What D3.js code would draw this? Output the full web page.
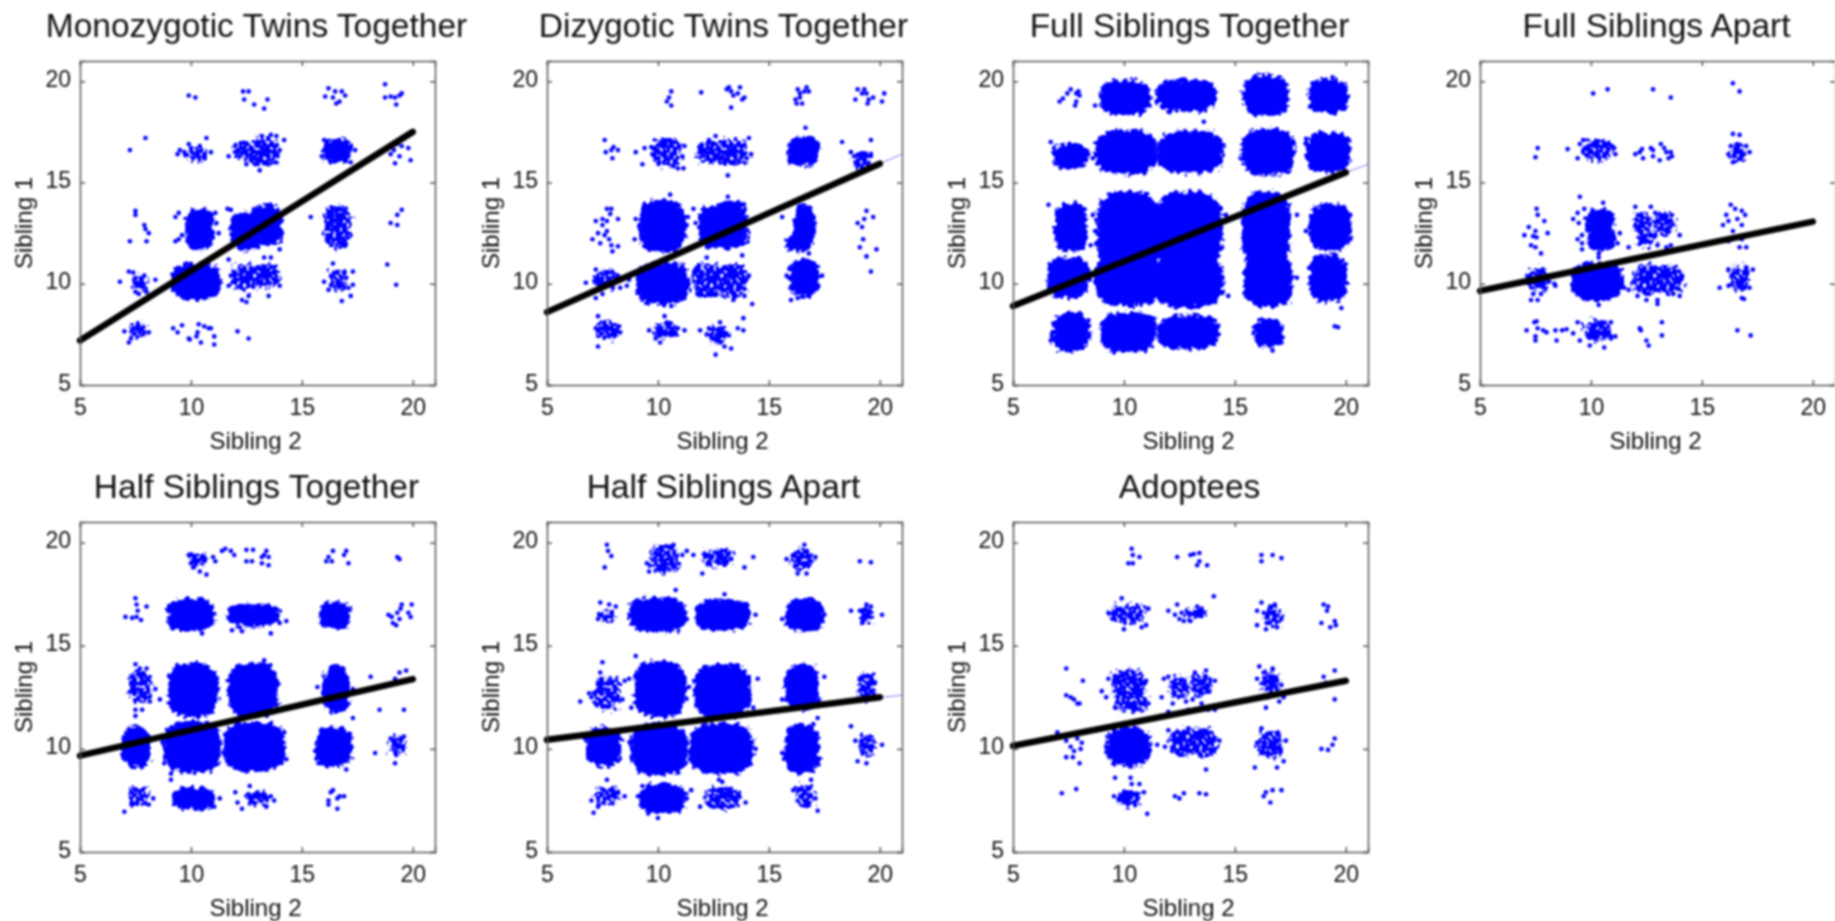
<!DOCTYPE html>
<html>
<head>
<meta charset="utf-8">
<script src="https://cdn.jsdelivr.net/npm/d3@7"></script>
<style>
  body { margin: 0; background: #fff; }
  svg { display: block; filter: blur(0.8px); }
  text { font-family: "Liberation Sans", Arial, sans-serif; fill: #111; }
  .axis path, .axis line { stroke: #555; stroke-width: 1.5; }
</style>
</head>
<body>
<svg id="chart" width="1835" height="921"></svg>
<script>
const titles = ["Monozygotic Twins Together", "Dizygotic Twins Together", "Full Siblings Together", "Full Siblings Apart",
  "Half Siblings Together", "Half Siblings Apart", "Adoptees"];
const tickValues = [5, 10, 15, 20];
const xLabel = "Sibling 2";
const yLabel = "Sibling 1";

// fit lines, [sibling 2, sibling 1]
const mzFit = [[5, 7.2], [20, 17.5]];
const dzFit = [[5, 8.6], [20, 15.93]];
const fsFit = [[5, 8.9], [20, 15.5]];
const faFit = [[5, 9.65], [20, 13.07]];
const hsFit = [[5, 9.67], [20, 13.38]];
const haFit = [[5, 10.44], [20, 12.5]];
const adFit = [[5, 10.15], [20, 13.3]];
// thin continuation past 20, only visible in three panels
const dzTail = [[20, 15.93], [21, 16.4]];
const fsTail = [[20, 15.5], [21, 15.9]];
const haTail = [[20, 12.5], [21, 12.6]];

// dense clusters read as [x, y, half width, half height]
const mzSolid = [[10.25, 10.1, 1.1, 0.9], [10.4, 12.7, 0.65, 1.0], [12.5, 12.6, 0.75, 0.95], [13.4, 12.9, 0.7, 1.0], [16.6, 16.55, 0.65, 0.6]];
const dzSolid = [[10.2, 10, 1.2, 1.05], [10.2, 12.85, 1.05, 1.3], [12.5, 12.8, 0.65, 1.05], [13.3, 12.9, 0.75, 1.2], [16.6, 12.9, 0.5, 1.0], [16.3, 12, 0.6, 0.4], [16.6, 10.3, 0.7, 0.9], [16.55, 16.55, 0.72, 0.72]];
const fsSolid = [[10.05, 19.2, 1.15, 0.85], [12.8, 19.3, 1.35, 0.8], [16.4, 19.3, 1.05, 1.0], [19.2, 19.25, 0.9, 0.85],
  [10.1, 16.5, 1.4, 1.1], [13, 16.5, 1.5, 1.05], [16.5, 16.5, 1.2, 1.15], [19.2, 16.5, 1.0, 1.0], [7.6, 16.3, 0.8, 0.6],
  [10.2, 12.6, 1.45, 1.95], [12.9, 12.6, 1.55, 1.95], [10.2, 10.2, 1.5, 1.3], [12.9, 10.1, 1.6, 1.25], [7.6, 12.8, 0.75, 1.2], [7.5, 10.3, 0.95, 1.0],
  [16.4, 12.7, 1.1, 1.85], [16.5, 10.2, 1.1, 1.35], [19.3, 12.8, 0.95, 1.15], [19.2, 10.3, 0.85, 1.15],
  [7.6, 7.6, 0.85, 0.95], [10.2, 7.6, 1.25, 1.0], [12.9, 7.6, 1.4, 0.85], [16.5, 7.6, 0.7, 0.7]];
const faSolid = [[10.3, 10.1, 1.15, 0.95], [10.4, 13, 0.65, 0.7], [10.5, 12.2, 0.65, 0.55]];
const hsSolid = [[10.05, 10.1, 1.3, 1.25], [12.85, 10.1, 1.4, 1.2], [16.45, 10.1, 0.85, 0.95], [7.55, 10.1, 0.65, 1.0],
  [10.1, 12.85, 1.15, 1.3], [12.8, 12.85, 1.15, 1.3], [16.55, 12.9, 0.6, 1.15], [10, 16.5, 1.05, 0.8], [12.8, 16.5, 1.2, 0.55], [16.5, 16.5, 0.7, 0.65], [10.1, 7.6, 0.95, 0.55]];
const haSolid = [[10.05, 10, 1.3, 1.25], [12.85, 10, 1.45, 1.25], [16.5, 10, 0.8, 1.2], [7.55, 10.1, 0.8, 0.95],
  [10.1, 12.9, 1.2, 1.35], [12.9, 12.8, 1.3, 1.3], [16.5, 13, 0.8, 1.1], [10, 16.5, 1.3, 0.85], [12.9, 16.5, 1.25, 0.75], [16.6, 16.5, 0.85, 0.8], [10.2, 7.6, 1.05, 0.75]];
const adSolid = [[10.2, 10.1, 1.0, 0.95]];

// looser clusters, same columns
const mzSpeckle = [[16.6, 12.8, 0.6, 1.05], [12.4, 16.6, 0.45, 0.45], [13.3, 16.5, 0.6, 0.7], [10.3, 16.4, 0.45, 0.3], [12.4, 10.3, 0.55, 0.65], [13.4, 10.4, 0.55, 0.6], [16.6, 10.2, 0.4, 0.5], [7.6, 7.7, 0.35, 0.4], [7.7, 10, 0.35, 0.4]];
const dzSpeckle = [[12.2, 10.15, 0.65, 0.85], [13.35, 10.15, 0.65, 0.85], [10.4, 16.5, 0.65, 0.7], [12.4, 16.5, 0.65, 0.55], [13.3, 16.5, 0.75, 0.65], [19.2, 16.1, 0.4, 0.45], [7.7, 10.2, 0.55, 0.45], [7.7, 7.7, 0.55, 0.5], [10.3, 7.7, 0.55, 0.35], [12.7, 7.5, 0.45, 0.4]];
const fsSpeckle = [];
const faSpeckle = [[10.3, 16.6, 0.7, 0.5], [12.5, 10.2, 0.6, 0.75], [13.5, 10.2, 0.65, 0.7], [16.7, 10.3, 0.45, 0.6], [7.6, 10.2, 0.5, 0.6], [10.3, 7.7, 0.6, 0.5], [12.3, 13, 0.4, 0.5], [13.3, 13, 0.45, 0.55], [12.5, 12.2, 0.45, 0.35], [16.6, 16.4, 0.35, 0.4]];
const hsSpeckle = [[7.7, 13, 0.5, 0.8], [7.6, 7.7, 0.45, 0.45], [19.3, 10.2, 0.35, 0.45], [10.3, 19.2, 0.4, 0.3], [13, 7.6, 0.5, 0.35]];
const haSpeckle = [[19.4, 10.2, 0.4, 0.5], [19.4, 13, 0.4, 0.7], [7.7, 12.7, 0.6, 0.8], [10.3, 19.2, 0.65, 0.7], [12.7, 19.3, 0.7, 0.4], [16.5, 19.2, 0.5, 0.5], [7.7, 7.7, 0.6, 0.4], [12.9, 7.6, 0.8, 0.55], [16.6, 7.7, 0.4, 0.55], [19.4, 16.5, 0.3, 0.4], [7.7, 16.4, 0.35, 0.25]];
const adSpeckle = [[10.2, 16.55, 0.8, 0.45], [10.2, 13.2, 0.75, 0.65], [10.3, 12.3, 0.75, 0.5], [12.5, 13, 0.45, 0.5], [13.5, 13.1, 0.45, 0.5], [12.6, 10.3, 0.6, 0.65], [13.5, 10.3, 0.65, 0.7], [16.6, 10.2, 0.55, 0.65], [16.6, 13.2, 0.4, 0.55], [10.2, 7.6, 0.55, 0.4], [13.2, 16.55, 0.45, 0.25], [16.7, 16.4, 0.4, 0.45]];

// single marks
const mzDots = [[9.9,19.3],[10.2,19.2],[12.35,19.5],[12.6,19.5],[12.4,19.1],[12.85,18.85],[13.45,19.1],[13.3,18.65],[16.2,19.65],[16.05,19.25],[16.5,19.5],[16.8,19.5],[16.4,19.2],[16.7,19],[16.95,19.3],[16.55,18.9],[18.75,19.85],[18.75,19.2],[19,19.25],[19.2,19.2],[19.5,19.4],[19.25,18.85],[19.4,19.3],
[7.25,16.6],[7.95,17.2],[9.4,16.4],[9.5,16.6],[9.7,16.5],[9.9,16.9],[9.75,16.35],[10,16.7],[10.7,17.2],[10.9,16.5],[10.6,16.2],[10.1,16.2],[10.4,16.8],[11.7,16.3],[12,16.5],[12,16.8],[12.5,15.9],[12.7,16.1],[12.9,15.9],[13.1,15.6],[13.2,17.3],[13.6,17.35],[13.85,17.3],[14.2,17.1],[13.9,16.3],[14,16.6],[13.8,16],[13.1,17],[15.9,16.3],[17.4,16.6],[17.2,16],[16,17.1],[19,16.4],[19.2,15.95],[19.4,16.3],[19.5,16.8],[19.8,16.7],[19.9,16.1],[19.15,16.6],[19.6,17.2],[19.3,16.9],
[15.4,13.3],[7.5,13.6],[7.5,13.4],[7.9,12.9],[8.1,12.5],[7.25,12.1],[8,12.1],[7.95,12.7],[9.3,13.3],[9.45,13.5],[9.3,12.1],[9.45,12.2],[9.6,12.4],[11.25,12.5],[11.1,13.5],[11.15,13],[11.65,13.7],[11.8,13.65],[14,11.7],[14.1,12.5],[19.3,13.4],[19.5,13.65],[19,13],[19.3,12.9],[18.85,10.95],[19.25,9.95],
[6.8,10.1],[7.2,10.6],[7.4,10.55],[7.5,10.3],[7.9,10.4],[8.4,10.2],[7.5,9.6],[8,9.6],[7.65,9.5],[11.7,9.9],[11.7,11.2],[12.3,9.2],[12.5,9.1],[12.6,9.4],[13.3,11.3],[13.6,11.3],[13.5,9.4],[14,9.9],[13.8,10.6],[12,10.2],[11.8,10.4],[16,10.1],[16.2,9.7],[17.3,10.6],[17.3,9.95],[17.2,9.4],[16.8,9.15],[17.1,9.8],[17,10.3],[16.4,11],
[7,7.65],[7.2,7.1],[7.3,7.3],[7.9,7.6],[8.1,7.6],[9.2,7.8],[9.4,7.6],[9.6,7.95],[9.9,7.3],[9.95,7.25],[10.35,8],[10.3,7.6],[10.6,7.9],[10.45,7.1],[10.9,7.8],[11.05,7.4],[11.05,7],[10.8,7.8],[10.25,7.4],[12.1,7.65],[12.6,7.3]];

const dzDots = [[10.6,19.5],[10.5,19.2],[10.4,19],[10.6,18.8],[11.95,19.45],[13.1,19.6],[13.3,19.5],[13.4,19.3],[13.6,19.4],[13.7,19.7],[13.8,19.1],[13.9,19.2],[13.2,19.7],[13.3,18.7],[16.3,19.6],[16.7,19.7],[16.8,19.5],[16.6,19.5],[16.2,19.1],[16.4,19.2],[16.5,18.9],[16.25,18.9],[16.4,19.4],[19,19.6],[19.3,19.6],[19.4,19.4],[19.2,19.4],[18.9,19.1],[19.5,19.1],[19.45,18.9],[20.2,19.4],[20.1,19],[19.7,19.2],
[7.6,17.1],[7.65,16.5],[7.9,16.6],[8.2,16.6],[7.95,16.2],[8,16.75],[9,16.5],[9.4,16.7],[9.7,16.75],[9.3,15.9],[9.75,16.4],[11.15,15.7],[10.9,15.7],[10.7,15.8],[11.1,16.3],[11.2,16.8],[12.6,17.3],[12.3,17.1],[13.15,15.35],[14.1,17.2],[14.2,16.4],[14,16.2],[18.3,17],[18.7,16.5],[18.85,16.3],[19,15.9],[19.6,17.1],[19.6,16.4],[16.65,17.7],
[7.7,13.7],[7.9,13.7],[7.85,13.45],[7.2,13.1],[7.5,13.2],[7.7,13.1],[8.2,13.2],[7.5,12.9],[7.3,12.5],[7.7,12.6],[7.05,12.2],[7.4,12],[7.8,12.2],[7.9,11.9],[8.2,11.85],[7.95,11.6],[7.6,12.4],[9,13.2],[8.95,12.2],[11.2,12.4],[11.3,12.9],[11.6,13.7],[11.35,13.3],[10.55,14.4],[11.7,13],[13.15,14.3],[15.6,13.3],[19,13],[19.3,13.2],[19.2,12.8],[19.4,13.6],[19.7,13.3],[19.25,12.2],[19.1,11.8],[19.4,11.35],[19.85,11.7],[19.6,10.6],[11.2,9.3],
[6.75,10.05],[7.2,10.7],[7.3,10.3],[7.4,10],[7.5,9.5],[7.2,9.3],[8.2,10.4],[8.6,9.9],[8.3,9.8],[8.7,10.2],[14.1,10.4],[14.25,9],[13.8,11.4],[12.2,11.3],[13.9,9.4],[13.4,9.2],[15.8,10.4],[16,9.2],[16.3,9.3],[16.8,11.5],[16.55,11.2],[17.4,10.4],[17.1,9.8],[10.6,8.9],
[7.3,8.4],[7.3,6.9],[7.2,7.8],[8.3,7.6],[8.25,7.9],[9.6,7.7],[9.9,7.3],[10.1,7.1],[10.3,8.4],[10.4,8.1],[10.9,7.8],[11.2,7.7],[11.9,7.7],[12.2,7.5],[12.5,7.3],[12.6,6.5],[12.8,7.1],[13,6.9],[13.3,6.8],[12.3,7.8],[12.8,8.1],[13.1,7.5],[13.6,7.8],[13.85,7.7],[13.85,8.3],[12.75,7.6]];

const fsDots = [[7.1,19],[7.25,19.15],[7.45,19.4],[7.6,19.6],[7.85,19.4],[8,19.3],[7.85,19],[7.8,18.8],[7.95,19.5],[8.7,18.8],[19.4,20.2],[13.6,18],[19.5,7.9],[19.65,7.85],[19.8,8.8],[6.7,17],[6.85,16.7],[18.2,12.6],[8.6,16.2],[8.7,12.6],[8.6,13.4],[8.5,11.9],[8.4,8.2],[16.7,6.7],[17.1,7.1],[20.2,13.4],[20.2,12.2],[15.5,11.9],[17.8,13.4],[17.8,10.3],[14.7,9.4],[14.6,13.4],[6.6,13.9],[6.65,10.4],[6.7,7.2],[20.15,16.7]];

const faDots = [[10.1,19.4],[10.75,19.6],[12.8,19.6],[13.6,19.2],[16.4,19.9],[16.7,19.5],
[7.6,16.7],[7.5,16.25],[8.95,16.65],[9.4,16.2],[9.5,16.9],[9.65,17.1],[11.1,16.4],[11.05,16.7],[10.8,16.9],[12,16.4],[12.2,16.5],[12.3,16.65],[12.35,16.2],[12.7,16.7],[12.8,16.6],[12.8,16.3],[13.1,16.1],[13.15,16.9],[13.3,16.7],[13.4,16.5],[13.65,16.3],[13.6,16.5],[13.5,16.2],[16.4,17.4],[16.7,17.35],[16.3,16.8],[16.5,16.7],[16.2,16.4],[16.4,16],[16.9,16.4],[17,16.8],[17.15,16.5],[16.7,16.2],[16.6,16.9],
[9.5,14.3],[9.4,13.5],[9.2,13.2],[9.45,13],[9.4,12.2],[9.6,12.4],[9.6,12],[9.6,11.7],[11.3,12.5],[11.2,12],[10.35,11.3],[10.35,11.5],[10.55,14],[9.7,13.7],
[7.55,13.7],[7.6,13.4],[7.9,13.1],[7.2,12.8],[7.5,12.6],[7,12.4],[7.4,12.35],[7.55,12.3],[8.05,12.5],[7.3,11.9],[7.5,11.8],[7.75,11.5],[11.7,11.8],[12,13.8],[12.7,13.8],[12.9,13.5],[12.1,12.7],[12.9,12.4],[13,11.9],[14,12.4],[13.5,12.7],[13.4,11.8],[13.6,11.9],
[16.3,13.9],[16.1,13.4],[16.2,13.1],[15.95,12.9],[16.5,13.7],[16.8,13.6],[16.95,13.4],[16.6,13.2],[16.8,12.9],[16.4,12.6],[16.5,12.3],[16.8,12.2],[16.7,11.8],[17,11.8],[16.2,12.1],
[15.8,9.8],[16.2,10.7],[17.3,10.7],[17,10.8],[17.15,9.8],[16.8,9.3],[16.9,9.25],[16.2,9.9],[13,9],[13,9.2],[14.1,10.4],[14,9.4],[13.7,9.5],[12.1,9.4],[12.5,9.2],[11.5,9.8],[11.7,9.7],[10.35,8.95],
[8.4,9.9],[8.1,10.1],[8.35,10],[7.3,9.2],[7.6,9.2],[7.75,9.5],[7.4,9.5],
[7.1,7.7],[7.5,7.4],[7.5,7.2],[7.45,8.1],[7.55,8.15],[7.6,7.8],[7.85,7.7],[8,7.6],[8.4,7.7],[8.45,7.2],[8.7,7.7],[8.9,7.75],[9.2,7.55],[9.4,8.1],[9.5,7.2],[9.95,6.95],[10.6,6.85],[10.9,7.3],[11.1,7.4],[10.9,8.1],[12.2,7.8],[12.25,7.7],[12.5,7.2],[12.6,6.95],[13.2,8.1],[13.2,7.45],[16.6,7.7],[17.2,7.45]];

const hsDots = [[9.9,19.4],[10,19],[10.1,18.8],[10.4,18.6],[10.7,18.45],[10.6,19.3],[11,19.3],[11.1,19.1],[11.4,19.6],[11.55,19.7],[11.8,19.6],[11.95,19.4],[12.5,19.65],[12.8,19.65],[12.5,19.1],[12.75,19.1],[13.2,19.3],[13.4,19.6],[13.5,19.3],[13.5,18.9],[13.2,19],[13.3,19.4],[16.2,19.3],[16.4,19.6],[16.35,19.1],[16.1,19.1],[16.9,19.4],[17,19.6],[17.1,19],[19.3,19.3],[19.4,19.2],
[7.5,17.3],[7.55,17],[7.6,16.7],[7.55,16.4],[7.05,16.4],[7.35,16.35],[7.75,16.25],[8,16.9],[14,16.1],[14.3,16.2],[11.85,15.75],[12.2,15.9],[12.3,15.7],[13.6,15.6],[10.5,15.6],[10.6,15.9],[18.9,16.5],[19.05,16.4],[19.1,16.1],[19.3,16.6],[19.4,16.3],[19.25,16],[19.5,17],[19.45,16.8],[19.8,16.6],[19.95,17],[19.9,16.4],
[7.5,14.1],[7.7,13.9],[8,13.9],[8.4,12.9],[8.15,12.3],[7.5,11.9],[7.5,11.6],[7.8,11.9],[18.1,13.5],[19.2,13.4],[19.4,13.7],[19.7,13.8],[18.5,11.9],[19.6,11.9],[13.3,14.3],[15.7,13],[17.3,12.9],[17.3,11.5],[8.6,12.4],[9.05,13.5],
[18.3,9.8],[19,10.5],[19.6,10.6],[19.2,9.3],[19.25,9.7],[19.5,10.5],[8.8,9.3],[14.2,10.8],[14.3,9.5],[15.6,9.9],[15.75,9.3],[17,9],[12.5,8.9],
[9.1,8.5],[9.1,8.8],[9.3,7.6],[7,6.95],[7.3,7.9],[8.3,7.6],[8.1,7.3],[11.3,7.6],[11,7.6],[11.05,7.2],[12,7.9],[12.1,7.4],[12.3,7.1],[12.6,7.8],[12.65,8.2],[12.8,7.4],[13,7.9],[13.4,7.2],[13.4,7.6],[13.6,7.7],[13.75,7.5],[16.2,7.5],[16.3,7.9],[16.4,8],[16.6,7.6],[16.7,7.7],[16.9,7.7],[16.6,7.1],[16.2,7.3]];

const haDots = [[7.7,19.9],[7.75,19.6],[7.9,19.35],[7.6,18.8],[11.1,19.4],[11.6,19.4],[11.3,19.6],[9.5,19],[9.6,18.6],[10.7,19.9],[13.9,18.8],[14.3,19.3],[12,18.5],[16.6,19.9],[16.9,19.1],[15.8,19.2],[17.1,19.3],[16.3,18.5],[16.7,18.5],[19.1,19.1],[19.6,19.05],
[7.4,17.1],[7.8,17],[7.7,16.4],[7.3,16.3],[7.9,16.6],[8.1,16.9],[10.8,17.7],[13,17.5],[14.4,16.5],[8.8,16.5],[8.9,16.2],[11.3,16.3],[15.6,16.3],[17.5,16.5],[18.7,16.7],[19.1,16.7],[19.4,17],[19.2,16.1],[19.5,16.5],[20.1,16.5],[19.6,16.9],
[7.5,14.2],[7.4,13.7],[8.5,13.3],[6.5,12.3],[6.9,12.7],[7,12.5],[8.4,12.4],[8.7,13.4],[8.8,12],[11.4,13],[9,14.5],[14.5,13.4],[14.3,12],[15.6,12.4],[17.5,13.5],[17.4,12.2],
[6.7,10.5],[18.7,11.1],[18.9,10.4],[19,9.4],[19.4,9.3],[20.1,10.2],[15.6,9.8],[14.4,10],[17.2,11.5],[17,11.2],
[7.7,8.5],[7,7.5],[7.1,6.9],[7.3,7.2],[8.5,7.7],[8.2,7.9],[9.1,7.7],[9.3,8.2],[10,6.65],[11.3,7.6],[11.5,8],[11.9,7.2],[13.95,7.4],[12.9,8.4],[12.75,8.5],[16.1,8],[16.9,8.5],[17.1,7.6],[17.2,7]];

const adDots = [[10.35,19.7],[10.4,19.4],[10.7,19.3],[10.2,19],[10.4,19],[12.4,19.3],[13,19.4],[13.15,19.45],[13.4,19.5],[13.4,19.1],[13.3,18.9],[13.75,18.9],[16.2,19.4],[16.2,19.1],[16.7,19.4],[17.1,19.25],
[14.05,17.4],[12.4,17],[12.6,16.6],[12.7,16.2],[12,16.7],[12.3,16.5],[12.5,16.3],[12.9,16.6],[13,16.2],[13.3,16.9],[13.5,16.8],[16,16.7],[16.2,17.1],[16.3,16.6],[16.6,16.9],[16.8,17],[16,16],[16.4,15.8],[16.5,16.1],[16.9,15.9],[17.1,16.3],[9.9,17.3],[10,15.8],[11,16],[10.8,15.9],[11.1,16.8],[9.3,16.6],[19,17],[19.2,16.9],[19.15,16.7],[18.9,16.1],[19.3,15.9],[19.5,16.2],[19.55,16],
[7.4,13.9],[8.15,13.3],[7.4,12.6],[7.6,12.5],[7.75,12.4],[7.9,12.2],[8,12.2],[9,12.8],[9.2,12.5],[9.3,13.4],[9.6,12],[11.1,12.2],[11,13.3],[11.7,12.5],[11.8,13.4],[12,13.5],[12,11.8],[12.2,12.2],[12.8,12.3],[12.9,11.9],[13.1,12.4],[13.5,12.2],[13.8,11.9],[14.1,13.3],[14.1,11.9],[13.2,13.7],[13.7,13.8],[16,13.4],[16.1,14],[16.7,13.9],[16.9,13.3],[16.3,13.7],[17.1,13.1],[16.4,12],[16.5,12.5],[17,12.3],[17.2,12.5],[19,13.5],[19.1,13.2],[19.5,13.8],[19.5,12.4],
[7,10.8],[7.4,10.4],[7.6,10.1],[7.9,10.5],[8.1,10.3],[7.75,9.9],[7.7,9.6],[7.4,9.6],[8,9.3],[8.05,10],[11.5,10.2],[14.3,10.4],[14.1,10],[13.7,9],[12,10.9],[11.85,10.1],[12.9,11],[13.6,10.9],[16,10.3],[16.2,11],[17.3,10.4],[15.9,9.1],[16.9,9.1],[17.2,9.4],[16.2,9.8],[18.9,10],[19.2,9.95],[19.4,10.2],[19.5,10.5],
[7.2,7.85],[7.85,8.05],[9.6,8.6],[10.3,8.6],[10.35,8.3],[10.7,8.3],[9.55,7.7],[10.9,7.9],[10.5,7.3],[11.05,6.85],[12.3,7.7],[12.5,7.6],[12.7,7.85],[13.4,7.85],[13.7,7.8],[16.3,7.7],[16.4,7.9],[16.7,8],[16.6,7.4],[17.1,8]];

const fits = [mzFit, dzFit, fsFit, faFit, hsFit, haFit, adFit];
const tails = [[], dzTail, fsTail, [], [], haTail, []];
const solids = [mzSolid, dzSolid, fsSolid, faSolid, hsSolid, haSolid, adSolid];
const speckles = [mzSpeckle, dzSpeckle, fsSpeckle, faSpeckle, hsSpeckle, haSpeckle, adSpeckle];
const dots = [mzDots, dzDots, fsDots, faDots, hsDots, haDots, adDots];

const CONFIG = {
  lefts: [80, 547, 1013, 1480, 80, 547, 1013],
  tops: [61, 61, 61, 61, 522, 522, 522],
  width: 355,
  heights: [324, 324, 324, 324, 330, 330, 330],
  blue: "#0000ff"
};

const mainSVG = d3.select("#chart");

// edges of the clusters are torn up a bit so they don't read as clean shapes
const defs = mainSVG.append("defs");
const rough = defs.append("filter").attr("id", "rough").attr("x", "-5%").attr("y", "-5%").attr("width", "110%").attr("height", "110%");
rough.append("feTurbulence").attr("type", "fractalNoise").attr("baseFrequency", 0.2).attr("numOctaves", 2).attr("seed", 4).attr("result", "n");
rough.append("feDisplacementMap").attr("in", "SourceGraphic").attr("in2", "n").attr("scale", 11)
  .attr("xChannelSelector", "R").attr("yChannelSelector", "G");

const speckle = defs.append("filter").attr("id", "speckle").attr("x", "-5%").attr("y", "-5%").attr("width", "110%").attr("height", "110%");
speckle.append("feTurbulence").attr("type", "fractalNoise").attr("baseFrequency", 0.22).attr("numOctaves", 2).attr("seed", 9).attr("result", "n");
speckle.append("feDisplacementMap").attr("in", "SourceGraphic").attr("in2", "n").attr("scale", 14)
  .attr("xChannelSelector", "R").attr("yChannelSelector", "G").attr("result", "torn");
speckle.append("feTurbulence").attr("type", "fractalNoise").attr("baseFrequency", 0.3).attr("numOctaves", 1).attr("seed", 21).attr("result", "holes");
speckle.append("feColorMatrix").attr("in", "holes").attr("type", "matrix")
  .attr("values", "0 0 0 0 0  0 0 0 0 0  0 0 0 0 0  12 0 0 0 -4").attr("result", "mask");
speckle.append("feComposite").attr("in", "torn").attr("in2", "mask").attr("operator", "in");

function drawPanel(i) {
  const w = CONFIG.width, h = CONFIG.heights[i];
  const x = d3.scaleLinear().domain([5, 21]).range([0, w]);
  const y = d3.scaleLinear().domain([5, 21]).range([h, 0]);
  const g = mainSVG.append("g").attr("transform", "translate(" + CONFIG.lefts[i] + "," + CONFIG.tops[i] + ")");

  // clusters are blocky, so rounded rects and not ellipses
  const blobs = (data, filter) => g.append("g").attr("filter", "url(#" + filter + ")")
    .selectAll("rect").data(data).enter().append("rect")
    .attr("x", d => x(d[0] - d[2]))
    .attr("y", d => y(d[1] + d[3]))
    .attr("width", d => x(d[0] + d[2]) - x(d[0] - d[2]))
    .attr("height", d => y(d[1] - d[3]) - y(d[1] + d[3]))
    .attr("rx", d => 0.7 * (x(d[2]) - x(0)))
    .attr("ry", d => 0.7 * (y(0) - y(d[3])))
    .attr("fill", CONFIG.blue);
  if (speckles[i].length) blobs(speckles[i], "speckle");
  blobs(solids[i], "rough");

  g.append("g").selectAll("circle").data(dots[i]).enter().append("circle")
    .attr("cx", d => x(d[0]))
    .attr("cy", d => y(d[1]))
    .attr("r", 2.3)
    .attr("fill", CONFIG.blue);

  const line = d3.line().x(d => x(d[0])).y(d => y(d[1]));
  if (tails[i].length) {
    g.append("path").attr("d", line(tails[i])).attr("fill", "none")
      .attr("stroke", "#7f7fff").attr("stroke-width", 1);
  }
  g.append("path").attr("d", line(fits[i])).attr("fill", "none")
    .attr("stroke", "#000").attr("stroke-width", 6.5).attr("stroke-linecap", "round");

  // axes, box style with inward ticks
  const bottom = g.append("g").attr("class", "axis").attr("transform", "translate(0," + h + ")")
    .call(d3.axisBottom(x).tickValues(tickValues).tickSize(-5).tickPadding(14));
  const left = g.append("g").attr("class", "axis")
    .call(d3.axisLeft(y).tickValues(tickValues).tickSize(-5).tickPadding(9));
  g.append("g").attr("class", "axis")
    .call(d3.axisTop(x).tickValues(tickValues).tickSize(-5).tickFormat(""));
  g.append("g").attr("class", "axis").attr("transform", "translate(" + w + ",0)")
    .call(d3.axisRight(y).tickValues(tickValues).tickSize(-5).tickFormat(""));
  bottom.selectAll("text").attr("font-size", 23).attr("font-family", null);
  left.selectAll("text").attr("font-size", 23).attr("font-family", null).attr("dy", "0.22em");

  g.append("text").attr("x", w / 2 - 1).attr("y", -24)
    .attr("text-anchor", "middle").attr("font-size", 33.5).text(titles[i]);
  g.append("text").attr("x", w / 2 - 2).attr("y", h + 64)
    .attr("text-anchor", "middle").attr("font-size", 24).text(xLabel);
  g.append("text").attr("transform", "translate(-48," + (h / 2) + ") rotate(-90)")
    .attr("text-anchor", "middle").attr("font-size", 24).text(yLabel);
}

titles.forEach((t, i) => drawPanel(i));
</script>
</body>
</html>
